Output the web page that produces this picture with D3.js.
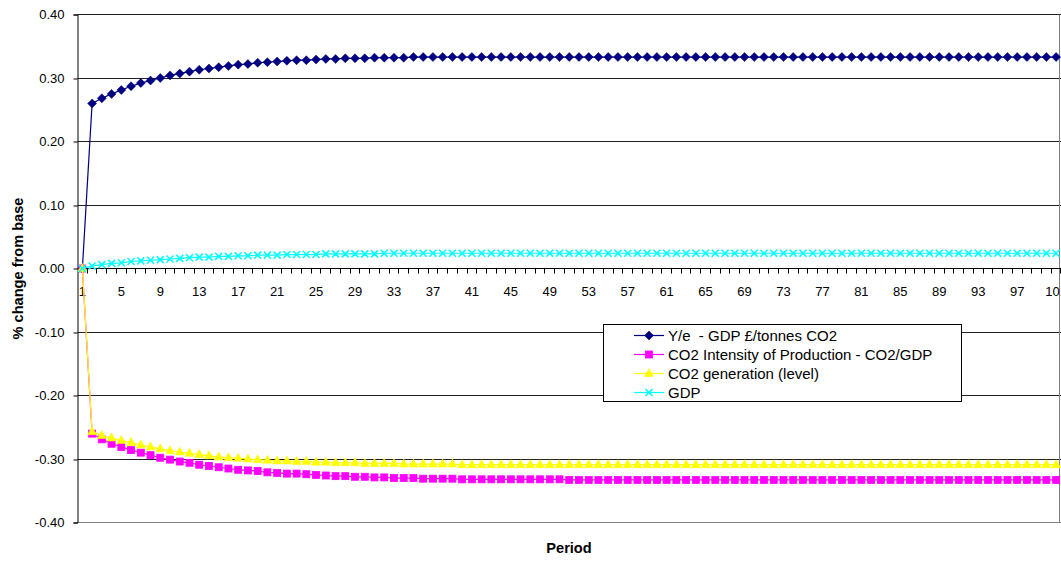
<!DOCTYPE html>
<html>
<head>
<meta charset="utf-8">
<script src="https://cdn.jsdelivr.net/npm/d3@7"></script>
<style>
  html, body { margin: 0; padding: 0; background: #fff; overflow: hidden; }
  svg { display: block; font-family: Arial, "Liberation Sans", sans-serif; }
</style>
</head>
<body>
<svg id="chart" width="1061" height="561"></svg>
<script>
// ---------- DATA ----------
const periods = d3.range(1, 102); // categories 1..101
const xTickLabels = [1,5,9,13,17,21,25,29,33,37,41,45,49,53,57,61,65,69,73,77,81,85,89,93,97,101];
const yTicks = [0.40, 0.30, 0.20, 0.10, 0.00, -0.10, -0.20, -0.30, -0.40];

const seriesNames = [
  "Y/e  - GDP \u00A3/tonnes CO2",
  "CO2 Intensity of Production - CO2/GDP",
  "CO2 generation (level)",
  "GDP"
];

const yeGdp = [
  0, 0.260, 0.268, 0.275, 0.281, 0.287, 0.292, 0.296, 0.300, 0.304,
  0.307, 0.310, 0.313, 0.315, 0.317, 0.319, 0.321, 0.322, 0.324, 0.325,
  0.326, 0.327, 0.328, 0.328, 0.329, 0.330, 0.330, 0.331, 0.331, 0.331,
  0.332, 0.332, 0.332, 0.332, 0.333, 0.333, 0.333, 0.333, 0.333, 0.333,
  0.333, 0.333, 0.333, 0.333, 0.333, 0.333, 0.333, 0.333, 0.333, 0.333,
  0.333, 0.333, 0.333, 0.333, 0.333, 0.333, 0.333, 0.333, 0.333, 0.333,
  0.333, 0.333, 0.333, 0.333, 0.333, 0.333, 0.333, 0.333, 0.333, 0.333,
  0.333, 0.333, 0.333, 0.333, 0.333, 0.333, 0.333, 0.333, 0.333, 0.333,
  0.333, 0.333, 0.333, 0.333, 0.333, 0.333, 0.333, 0.333, 0.333, 0.333,
  0.333, 0.333, 0.333, 0.333, 0.333, 0.333, 0.333, 0.333, 0.333, 0.333,
  0.333
];

const co2Intensity = [
  0, -0.260, -0.269, -0.276, -0.281, -0.286, -0.290, -0.294, -0.298, -0.301,
  -0.304, -0.306, -0.309, -0.311, -0.313, -0.315, -0.317, -0.318, -0.319, -0.321,
  -0.322, -0.323, -0.323, -0.324, -0.325, -0.326, -0.327, -0.327, -0.328, -0.328,
  -0.329, -0.329, -0.330, -0.330, -0.330, -0.331, -0.331, -0.331, -0.331, -0.332,
  -0.332, -0.332, -0.332, -0.332, -0.332, -0.332, -0.332, -0.332, -0.332, -0.332,
  -0.333, -0.333, -0.333, -0.333, -0.333, -0.333, -0.333, -0.333, -0.333, -0.333,
  -0.333, -0.333, -0.333, -0.333, -0.333, -0.333, -0.333, -0.333, -0.333, -0.333,
  -0.333, -0.333, -0.333, -0.333, -0.333, -0.333, -0.333, -0.333, -0.333, -0.333,
  -0.333, -0.333, -0.333, -0.333, -0.333, -0.333, -0.333, -0.333, -0.333, -0.333,
  -0.333, -0.333, -0.333, -0.333, -0.333, -0.333, -0.333, -0.333, -0.333, -0.333,
  -0.333
];

const co2Generation = [
  0, -0.257, -0.263, -0.267, -0.271, -0.274, -0.278, -0.281, -0.284, -0.287,
  -0.289, -0.291, -0.293, -0.295, -0.297, -0.298, -0.299, -0.300, -0.301, -0.302,
  -0.303, -0.303, -0.304, -0.304, -0.305, -0.305, -0.306, -0.306, -0.306, -0.307,
  -0.307, -0.307, -0.307, -0.308, -0.308, -0.308, -0.308, -0.308, -0.308, -0.309,
  -0.309, -0.309, -0.309, -0.309, -0.309, -0.309, -0.309, -0.309, -0.309, -0.309,
  -0.309, -0.309, -0.309, -0.309, -0.309, -0.309, -0.309, -0.309, -0.309, -0.309,
  -0.309, -0.309, -0.309, -0.309, -0.309, -0.309, -0.309, -0.309, -0.309, -0.309,
  -0.309, -0.309, -0.309, -0.309, -0.309, -0.309, -0.309, -0.309, -0.309, -0.309,
  -0.309, -0.309, -0.309, -0.309, -0.309, -0.309, -0.309, -0.309, -0.309, -0.309,
  -0.309, -0.309, -0.309, -0.309, -0.309, -0.309, -0.309, -0.309, -0.309, -0.309,
  -0.309
];

const gdp = [
  0, 0.004, 0.006, 0.008, 0.009, 0.011, 0.012, 0.013, 0.014, 0.015,
  0.016, 0.017, 0.018, 0.018, 0.019, 0.019, 0.020, 0.020, 0.021, 0.021,
  0.021, 0.022, 0.022, 0.022, 0.022, 0.023, 0.023, 0.023, 0.023, 0.023,
  0.023, 0.024, 0.024, 0.024, 0.024, 0.024, 0.024, 0.024, 0.024, 0.024,
  0.024, 0.024, 0.024, 0.024, 0.024, 0.024, 0.024, 0.024, 0.024, 0.024,
  0.024, 0.024, 0.024, 0.024, 0.024, 0.024, 0.024, 0.024, 0.024, 0.024,
  0.024, 0.024, 0.024, 0.024, 0.024, 0.024, 0.024, 0.024, 0.024, 0.024,
  0.024, 0.024, 0.024, 0.024, 0.024, 0.024, 0.024, 0.024, 0.024, 0.024,
  0.024, 0.024, 0.024, 0.024, 0.024, 0.024, 0.024, 0.024, 0.024, 0.024,
  0.024, 0.024, 0.024, 0.024, 0.024, 0.024, 0.024, 0.024, 0.024, 0.024,
  0.024
];

const seriesColors = ["#000080", "#FF00FF", "#FFFF00", "#00FFFF"];
const seriesMarkers = ["diamond", "square", "triangle", "cross"];
const seriesValues = [yeGdp, co2Intensity, co2Generation, gdp];

// ---------- LAYOUT ----------
const svg = d3.select("#chart");
const plotLeft = 77.5, plotRight = 1061, plotTop = 14.5, plotBottom = 522.5;

const x = d3.scaleBand().domain(periods).range([plotLeft, plotRight]).padding(0);
const y = d3.scaleLinear().domain([-0.4, 0.4]).range([plotBottom, plotTop]);
const cx = p => x(p) + x.bandwidth() / 2;
const crisp = v => Math.floor(v) + 0.5;

svg.append("rect").attr("x", 0).attr("y", 0).attr("width", 1061).attr("height", 561).attr("fill", "#fff");

// gridlines
svg.append("g").selectAll("line").data(yTicks.filter(t => t !== 0)).join("line")
  .attr("x1", plotLeft).attr("x2", plotRight)
  .attr("y1", d => crisp(y(d))).attr("y2", d => crisp(y(d)))
  .attr("stroke", d => d === -0.4 ? "#808080" : "#222").attr("stroke-width", 1);

// right plot border (gray)
svg.append("line").attr("x1", 1059.5).attr("x2", 1059.5)
  .attr("y1", crisp(y(0.4))).attr("y2", crisp(y(-0.4)))
  .attr("stroke", "#808080");

// y axis
const yAxis = d3.axisLeft(y).tickValues(yTicks).tickSize(4).tickPadding(9)
  .tickFormat(d => d.toFixed(2));
const gy = svg.append("g").attr("transform", `translate(${crisp(plotLeft)},0)`).call(yAxis);
gy.select(".domain").attr("stroke", "#000");
gy.selectAll(".tick line").attr("stroke", "#000")
  .attr("transform", function(d){ return `translate(0,${crisp(y(d)) - y(d)})`; });
gy.selectAll(".tick text").attr("font-size", 13).attr("fill", "#000")
  .attr("font-family", "Arial, 'Liberation Sans', sans-serif");

// x axis at zero: tick marks at category boundaries
const zeroY = crisp(y(0));
svg.append("line").attr("x1", plotLeft).attr("x2", plotRight)
  .attr("y1", zeroY).attr("y2", zeroY).attr("stroke", "#000");
svg.append("g").selectAll("line").data(periods.slice(1)).join("line")
  .attr("x1", d => crisp(x(d))).attr("x2", d => crisp(x(d)))
  .attr("y1", zeroY).attr("y2", zeroY + 5).attr("stroke", "#000");
svg.append("line").attr("x1", crisp(plotRight) - 1).attr("x2", crisp(plotRight) - 1)
  .attr("y1", zeroY).attr("y2", zeroY + 5).attr("stroke", "#000");
svg.append("g").selectAll("text").data(xTickLabels).join("text")
  .attr("x", d => cx(d)).attr("y", zeroY + 27)
  .attr("text-anchor", "middle").attr("font-size", 13).attr("fill", "#000")
  .text(d => d);

// axis titles
svg.append("text").attr("transform", `translate(23,${y(0)}) rotate(-90)`)
  .attr("text-anchor", "middle").attr("font-size", 14.6).attr("font-weight", "bold")
  .text("% change from base");
svg.append("text").attr("x", 569).attr("y", 553)
  .attr("text-anchor", "middle").attr("font-size", 14.6).attr("font-weight", "bold")
  .text("Period");

// markers
function drawMarker(g, type, color, px, py) {
  if (type === "diamond") {
    g.append("path").attr("d", `M${px},${py-4.5}L${px+4.5},${py}L${px},${py+4.5}L${px-4.5},${py}Z`)
      .attr("fill", color).attr("stroke", color).attr("stroke-width", 0.5);
  } else if (type === "square") {
    g.append("rect").attr("x", px - 3.5).attr("y", py - 3.5).attr("width", 7).attr("height", 7)
      .attr("fill", color).attr("stroke", color).attr("stroke-width", 0.8);
  } else if (type === "triangle") {
    g.append("path").attr("d", `M${px},${py-5}L${px+4.5},${py+3}L${px-4.5},${py+3}Z`)
      .attr("fill", color).attr("stroke", color).attr("stroke-width", 0.5);
  } else {
    g.append("path").attr("d", `M${px-3.5},${py-3.5}L${px+3.5},${py+3.5}M${px-3.5},${py+3.5}L${px+3.5},${py-3.5}`)
      .attr("stroke", color).attr("stroke-width", 1.6).attr("fill", "none");
  }
}

// series
const line = d3.line().x((d, i) => cx(periods[i])).y(d => y(d));
seriesValues.forEach((vals, si) => {
  const g = svg.append("g");
  g.append("path").datum(vals).attr("d", line)
    .attr("fill", "none").attr("stroke", seriesColors[si]).attr("stroke-width", 1.2);
  vals.forEach((v, i) => drawMarker(g, seriesMarkers[si], seriesColors[si], cx(periods[i]), y(v)));
});

// legend
const lg = svg.append("g");
lg.append("rect").attr("x", 603.5).attr("y", 324.5).attr("width", 358).attr("height", 77)
  .attr("fill", "#fff").attr("stroke", "#000");
const rowY = [335, 354, 373, 392];
seriesNames.forEach((name, i) => {
  lg.append("line").attr("x1", 634).attr("x2", 664).attr("y1", rowY[i] + 0.5).attr("y2", rowY[i] + 0.5)
    .attr("stroke", seriesColors[i]).attr("stroke-width", 1.2);
  drawMarker(lg, seriesMarkers[i], seriesColors[i], 649, rowY[i] + 0.5);
  lg.append("text").attr("x", 668).attr("y", rowY[i] + 5.5).attr("font-size", 15).attr("fill", "#000")
    .attr("xml:space", "preserve").style("white-space", "pre")
    .text(name);
});
</script>
</body>
</html>
